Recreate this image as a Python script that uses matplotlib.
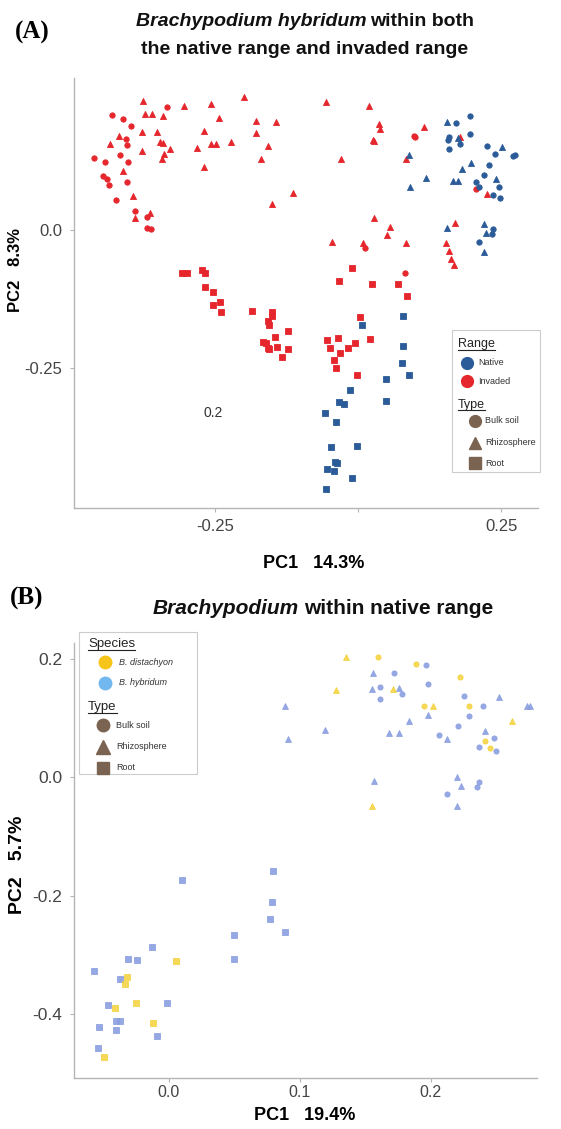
import matplotlib
matplotlib.use('Agg')
import matplotlib.pyplot as plt
from matplotlib.lines import Line2D
from matplotlib.patches import Rectangle

plt.rcParams['font.family'] = ['Liberation Sans', 'DejaVu Sans']

W, H = 561, 1129

# ---------------- panel A : B. hybridum, native vs invaded ----------------
a_nat_circ_x = [0.171, 0.196, 0.159, 0.156, 0.178, 0.196, 0.159, 0.225, 0.239, 0.274, 0.271,
                0.229, 0.219, 0.205, 0.211, 0.246, 0.235, 0.248, 0.235, 0.233, 0.211]
a_nat_circ_y = [0.193, 0.207, 0.169, 0.163, 0.156, 0.174, 0.147, 0.152, 0.138, 0.136, 0.133,
                0.118, 0.100, 0.086, 0.078, 0.078, 0.064, 0.057, 0.002, -0.007, -0.021]
a_nat_tri_x = [0.155, 0.175, 0.251, 0.088, 0.197, 0.182, 0.240, 0.118, 0.165, 0.174, 0.091,
               0.155, 0.219, 0.223, 0.219]
a_nat_tri_y = [0.195, 0.167, 0.151, 0.136, 0.121, 0.110, 0.092, 0.094, 0.089, 0.089, 0.078,
               0.004, 0.011, -0.005, -0.039]
a_nat_sq_x = [0.007, 0.078, 0.078, 0.076, 0.088, 0.049, -0.015, -0.033, -0.025, 0.049,
              -0.058, -0.038, -0.048, -0.002, -0.040, -0.037, -0.055, -0.042, -0.010, -0.056]
a_nat_sq_y = [-0.172, -0.156, -0.210, -0.240, -0.263, -0.269, -0.289, -0.311, -0.314, -0.310,
              -0.332, -0.347, -0.393, -0.391, -0.420, -0.422, -0.432, -0.436, -0.448, -0.469]

a_inv_circ_x = [-0.429, -0.410, -0.397, -0.334, -0.406, -0.404, -0.462, -0.442, -0.416, -0.402,
                -0.445, -0.439, -0.435, -0.404, -0.422, -0.390, -0.369, -0.368, -0.361,
                0.097, 0.100, 0.011, 0.082, 0.206]
a_inv_circ_y = [0.208, 0.201, 0.189, 0.222, 0.164, 0.154, 0.130, 0.123, 0.136, 0.123,
                0.098, 0.092, 0.081, 0.086, 0.054, 0.035, 0.024, 0.003, 0.001,
                0.170, 0.169, -0.033, -0.077, 0.074]
a_inv_tri_x = [-0.375, -0.304, -0.257, -0.200, -0.372, -0.360, -0.340, -0.243, -0.179, -0.143,
               -0.378, -0.352, -0.270, -0.179, -0.418, -0.433, -0.346, -0.341, -0.257, -0.248,
               -0.222, -0.158, -0.328, -0.281, -0.377, -0.339, -0.342, -0.169, -0.270, -0.411,
               -0.114, -0.151, -0.393, -0.390, -0.364, -0.056, 0.018, 0.037, 0.038, 0.114,
               0.026, 0.027, -0.030, 0.084, 0.178, 0.225, 0.028, 0.056, 0.051, -0.046,
               0.009, 0.084, 0.169, 0.153, 0.159, 0.162, 0.168]
a_inv_tri_y = [0.234, 0.225, 0.228, 0.240, 0.209, 0.210, 0.207, 0.203, 0.198, 0.196,
               0.177, 0.178, 0.180, 0.176, 0.170, 0.155, 0.159, 0.157, 0.156, 0.156,
               0.159, 0.152, 0.147, 0.148, 0.143, 0.138, 0.128, 0.129, 0.114, 0.106,
               0.067, 0.047, 0.062, 0.022, 0.031, 0.231, 0.225, 0.192, 0.182, 0.187,
               0.163, 0.161, 0.129, 0.129, 0.169, 0.065, 0.021, 0.006, -0.009, -0.022,
               -0.024, -0.023, 0.013, -0.024, -0.038, -0.053, -0.064]
a_inv_sq_x = [-0.308, -0.299, -0.272, -0.268, -0.267, -0.253, -0.254, -0.242, -0.239, -0.186,
              -0.150, -0.151, -0.158, -0.155, -0.123, -0.146, -0.167, -0.161, -0.158, -0.155,
              -0.142, -0.123, -0.133, -0.010, -0.033, 0.024, 0.069, 0.085, 0.004, -0.055,
              -0.036, -0.049, -0.031, -0.017, -0.006, 0.020, -0.042, -0.039, -0.002]
a_inv_sq_y = [-0.077, -0.077, -0.073, -0.077, -0.104, -0.112, -0.135, -0.130, -0.149, -0.147,
              -0.148, -0.156, -0.164, -0.171, -0.182, -0.194, -0.202, -0.205, -0.213, -0.216,
              -0.211, -0.216, -0.230, -0.069, -0.092, -0.097, -0.098, -0.119, -0.158, -0.199,
              -0.195, -0.214, -0.222, -0.213, -0.204, -0.198, -0.236, -0.250, -0.262]

# ---------------- panel B : native range, two species ----------------
b_dis_circ_x = [0.160, 0.189, 0.222, 0.195, 0.229, 0.241, 0.245]
b_dis_circ_y = [0.203, 0.191, 0.170, 0.120, 0.121, 0.061, 0.049]
b_dis_tri_x = [0.135, 0.128, 0.171, 0.202, 0.262, 0.155]
b_dis_tri_y = [0.203, 0.147, 0.149, 0.121, 0.096, -0.049]
b_dis_sq_x = [0.006, -0.032, -0.033, -0.041, -0.025, -0.012, -0.049]
b_dis_sq_y = [-0.310, -0.337, -0.349, -0.390, -0.382, -0.415, -0.473]

b_hyb_circ_x = [0.196, 0.172, 0.198, 0.161, 0.178, 0.161, 0.225, 0.240, 0.229, 0.221, 0.206,
                0.248, 0.237, 0.250, 0.237, 0.235, 0.212]
b_hyb_circ_y = [0.189, 0.176, 0.158, 0.153, 0.140, 0.132, 0.137, 0.121, 0.104, 0.086, 0.072,
                0.066, 0.052, 0.044, -0.008, -0.017, -0.028]
b_hyb_tri_x = [0.156, 0.155, 0.176, 0.252, 0.089, 0.119, 0.091, 0.273, 0.276, 0.198, 0.183,
               0.168, 0.176, 0.212, 0.241, 0.220, 0.223, 0.220, 0.157]
b_hyb_tri_y = [0.177, 0.149, 0.151, 0.135, 0.120, 0.080, 0.065, 0.120, 0.121, 0.105, 0.096,
               0.075, 0.075, 0.065, 0.079, 0.001, -0.014, -0.048, -0.006]
b_hyb_sq_x = [0.010, 0.080, 0.079, 0.077, 0.089, 0.050, 0.050, -0.013, -0.031, -0.024,
              -0.057, -0.037, -0.046, -0.001, -0.053, -0.040, -0.037, -0.040, -0.009, -0.054]
b_hyb_sq_y = [-0.173, -0.159, -0.211, -0.239, -0.261, -0.267, -0.307, -0.286, -0.307, -0.309,
              -0.327, -0.341, -0.384, -0.382, -0.421, -0.411, -0.412, -0.427, -0.437, -0.458]

# colours
NATIVE = '#2b5b98'
INVADED = '#e5262c'
DIST = '#f3cf2e'
HYB = '#8a9fe0'
TYPE_C = '#7a6351'
SPINE = '#b5b5b5'
TICK_C = '#444444'


def fx(x):
    return x / W


def fy(y):
    return 1 - y / H


fig = plt.figure(figsize=(W / 100, H / 100), dpi=100)


def make_axes(l, t, r, b):
    ax = fig.add_axes([fx(l), fy(b), (r - l) / W, (b - t) / H])
    for s in ['top', 'right']:
        ax.spines[s].set_visible(False)
    for s in ['left', 'bottom']:
        ax.spines[s].set_color(SPINE)
        ax.spines[s].set_linewidth(1.0)
    ax.tick_params(colors=SPINE, labelcolor=TICK_C, length=3, width=0.8, pad=5)
    return ax


def pts(ax, x, y, marker, color, size, alpha=1.0):
    ax.scatter(x, y, marker=marker, s=size, c=color, edgecolors=color, linewidths=0.6,
               alpha=alpha, zorder=3)


# ---------- panel A ----------
axA = make_axes(73.5, 78, 537.5, 508)
pts(axA, a_inv_circ_x, a_inv_circ_y, 'o', INVADED, 15)
pts(axA, a_inv_tri_x, a_inv_tri_y, '^', INVADED, 19)
pts(axA, a_inv_sq_x, a_inv_sq_y, 's', INVADED, 14)
pts(axA, a_nat_circ_x, a_nat_circ_y, 'o', NATIVE, 15)
pts(axA, a_nat_tri_x, a_nat_tri_y, '^', NATIVE, 19)
pts(axA, a_nat_sq_x, a_nat_sq_y, 's', NATIVE, 14)
axA.set_xlim(-0.497, 0.313)
axA.set_ylim(-0.503, 0.275)
axA.set_xticks([-0.25, 0.0, 0.25])
axA.set_xticklabels(['-0.25', '', '0.25'], fontsize=12)
axA.set_yticks([-0.25, 0.0])
axA.set_yticklabels(['-0.25', '0.0'], fontsize=12)
axA.text(-0.2525, -0.331, '0.2', fontsize=10, color='#333333', ha='center', va='center')

# ---------- panel B ----------
axB = make_axes(73.5, 643, 537, 1078)
pts(axB, b_hyb_circ_x, b_hyb_circ_y, 'o', HYB, 14, 0.9)
pts(axB, b_hyb_tri_x, b_hyb_tri_y, '^', HYB, 18, 0.9)
pts(axB, b_hyb_sq_x, b_hyb_sq_y, 's', HYB, 15, 0.9)
pts(axB, b_dis_circ_x, b_dis_circ_y, 'o', DIST, 14, 0.8)
pts(axB, b_dis_tri_x, b_dis_tri_y, '^', DIST, 18, 0.8)
pts(axB, b_dis_sq_x, b_dis_sq_y, 's', DIST, 15, 0.8)
axB.set_xlim(-0.0725, 0.281)
axB.set_ylim(-0.508, 0.227)
axB.set_xticks([0.0, 0.1, 0.2])
axB.set_xticklabels(['0.0', '0.1', '0.2'], fontsize=11.5)
axB.tick_params(axis='x', pad=2)
axB.set_yticks([-0.4, -0.2, 0.0, 0.2])
axB.set_yticklabels(['-0.4', '-0.2', '0.0', '0.2'], fontsize=12.5)

# ---------- axis labels ----------
fig.text(fx(16), fy(270), 'PC2   8.3%', rotation=90, fontsize=12, fontweight='bold',
         ha='center', va='center')
fig.text(fx(314), fy(564), 'PC1   14.3%', fontsize=13, fontweight='bold', ha='center', va='center')
fig.text(fx(17.5), fy(865), 'PC2   5.7%', rotation=90, fontsize=14, fontweight='bold',
         ha='center', va='center')
fig.text(fx(305), fy(1116), 'PC1   19.4%', fontsize=13, fontweight='bold', ha='center', va='center')

# ---------- panel letters ----------
fig.text(fx(32), fy(32), '(A)', family='Liberation Serif', fontweight='bold', fontsize=18,
         ha='center', va='center')
fig.text(fx(27), fy(598), '(B)', family='Liberation Serif', fontweight='bold', fontsize=18,
         ha='center', va='center')

renderer = fig.canvas.get_renderer()


def seg_line(cx, cy, parts, size):
    objs = []
    for s, st in parts:
        objs.append(fig.text(0, fy(cy), s, fontsize=size, fontweight='bold', fontstyle=st,
                             ha='left', va='center', color='#111111'))
    widths = [t.get_window_extent(renderer).width for t in objs]
    gap = size * 0.3
    total = sum(widths) + gap * (len(objs) - 1)
    x = cx - total / 2
    for t, w in zip(objs, widths):
        t.set_x(fx(x))
        x += w + gap


seg_line(305, 21.5, [('Brachypodium hybridum', 'italic'), ('within both', 'normal')], 14)
seg_line(305, 50, [('the native range and invaded range', 'normal')], 14)
seg_line(323, 609, [('Brachypodium', 'italic'), ('within native range', 'normal')], 15)


# ---------- legends (drawn in figure pixels) ----------
def underlined(x, y, s, size):
    t = fig.text(fx(x), fy(y), s, fontsize=size, ha='left', va='center', color='#222222')
    bb = t.get_window_extent(renderer)
    fig.add_artist(Line2D([bb.x0 / W, bb.x1 / W], [(bb.y0 + 0.5) / H, (bb.y0 + 0.5) / H],
                          transform=fig.transFigure, color='#222222', lw=0.8))


def key(x, y, marker, color, ms, label, tx, size, style='normal'):
    fig.add_artist(Line2D([fx(x)], [fy(y)], marker=marker, markersize=ms, color=color,
                          markeredgecolor=color, transform=fig.transFigure, linestyle='none'))
    fig.text(fx(tx), fy(y), label, fontsize=size, fontstyle=style, ha='left', va='center',
             color='#333333')


fig.add_artist(Rectangle((fx(452), fy(472)), 88 / W, 142 / H, transform=fig.transFigure,
                         facecolor='white', edgecolor='#cccccc', lw=0.8))
underlined(458, 344, 'Range', 9)
key(466.7, 362.7, 'o', NATIVE, 8.5, 'Native', 478, 6.5)
key(466.7, 381, 'o', INVADED, 8.5, 'Invaded', 478, 6.5)
underlined(458, 405, 'Type', 9)
key(475, 420.7, 'o', TYPE_C, 8.5, 'Bulk soil', 485, 6.5)
key(475, 442.7, '^', TYPE_C, 9, 'Rhizosphere', 485, 6.5)
key(475, 463.3, 's', TYPE_C, 8, 'Root', 485, 6.5)

fig.add_artist(Rectangle((fx(79), fy(774)), 118 / W, 142 / H, transform=fig.transFigure,
                         facecolor='white', edgecolor='#cccccc', lw=0.8))
underlined(88, 644.3, 'Species', 9.5)
key(105, 662.3, 'o', '#f7c51a', 9, 'B. distachyon', 119, 6.5, 'italic')
key(105, 682.7, 'o', '#72b8ee', 9, 'B. hybridum', 119, 6.5, 'italic')
underlined(88, 707.3, 'Type', 9.5)
key(103, 725, 'o', TYPE_C, 9, 'Bulk soil', 116, 6.5)
key(103, 746.7, '^', TYPE_C, 9.5, 'Rhizosphere', 116, 6.5)
key(103, 768, 's', TYPE_C, 8.5, 'Root', 116, 6.5)

fig.savefig('out.png', dpi=100)
